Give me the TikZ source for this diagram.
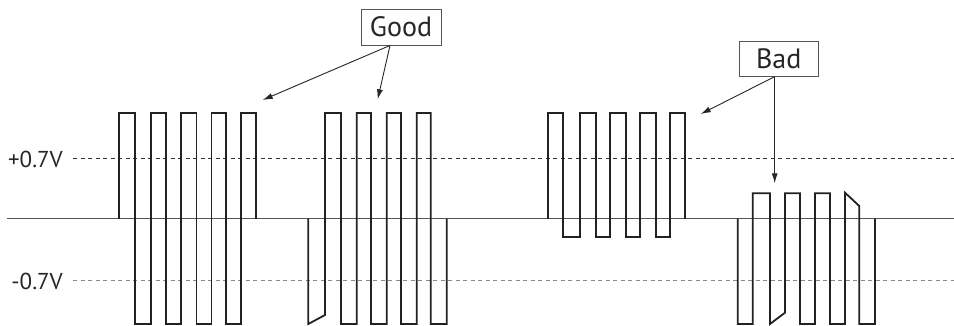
\documentclass[tikz,border=0pt]{standalone}
\usepackage{fontspec}
\setmainfont{PT Sans}
\usetikzlibrary{arrows.meta}
\definecolor{wavegray}{HTML}{222222}
\definecolor{axisgray}{HTML}{555555}
\definecolor{lowgray}{HTML}{8A8A8A}
\begin{document}
\begin{tikzpicture}[x=1pt, y=-1pt,
         wave/.style={line width=1.8pt, wavegray, line join=miter},
         axis/.style={line width=1.3pt, axisgray},
         level/.style={line width=0.9pt, dash pattern=on 4pt off 3.5pt},
         vlabel/.style={font=\fontsize{23}{25}\selectfont, text=black!85, inner sep=0pt, anchor=east},
         tag/.style={draw=axisgray, line width=0.9pt, font=\fontsize{28}{30}\selectfont,
                     text=black!85, minimum width=80pt, minimum height=36pt, inner sep=0pt},
         arrow/.style={-{Latex[length=10pt,width=6pt]}, line width=0.9pt, black!85}
      ]
   \useasboundingbox (0,0) rectangle (954,325);

   % levels
   \node[vlabel] (pos) at (63,159) {+0.7V};
   \node[vlabel] (neg) at (63,281) {-0.7V};
   \draw[level, black!80] (73,158) -- (954,158);
   \draw[level, lowgray] (73,280) -- (954,280);
   \draw[axis] (7,218.5) -- (954,218.5);

   % good bursts
   \draw[wave] (119,218.5) |- (134.7,113) |- (150.7,324) |- (166,113) |- (181,324)
      |- (196.5,113) |- (211.5,324) |- (226,113) |- (241,324) |- (256,113) -- (256,218.5);
   \draw[wave] (308.3,218.5) -- (308.3,324) -- (325,315) |- (341,113) |- (356.7,324)
      |- (371,113) |- (386.7,324) |- (401,113) |- (416.7,324) |- (430.7,113)
      |- (446.7,324) -- (446.7,218.5);

   % bad bursts
   \draw[wave] (547.7,218.5) |- (563.3,113) |- (580,236.7) |- (595.7,113) |- (610,236.7)
      |- (625.7,113) |- (640,236.7) |- (655.7,113) |- (669.7,236.7) |- (685.3,113)
      -- (685.3,218.5);
   \draw[wave] (737.7,218.5) |- (752.7,324) |- (770,193.3) -- (770,324) -- (785,312.7)
      |- (800,193.3) |- (815,324) |- (830,193.3) |- (845,324) -- (845,192.7)
      -- (859.3,206) |- (875,324) -- (875,218.5);

   % labels
   \node[tag] (good) at (401,27) {Good};
   \node[tag, minimum width=79pt, minimum height=35pt] (bad) at (778.7,58.7) {Bad};

   \coordinate (good1) at (262.7,100);
   \coordinate (good2) at (377.7,99.3);
   \coordinate (bad1) at (700.7,114);
   \coordinate (bad2) at (774.7,183.3);

   \begin{scope}[arrow]
      \draw ([xshift=-11pt]good.south) -- (good1);
      \draw ([xshift=-11pt]good.south) -- (good2);
      \draw ([xshift=-4pt]bad.south) -- (bad1);
      \draw ([xshift=-4pt]bad.south) -- (bad2);
   \end{scope}
\end{tikzpicture}
\end{document}
